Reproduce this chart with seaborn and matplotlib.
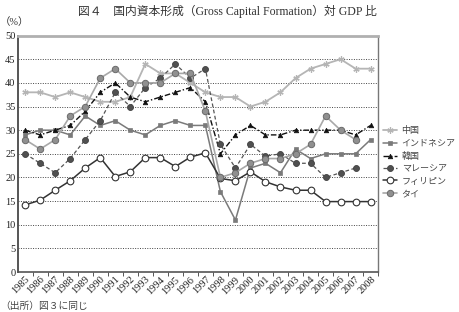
import numpy as np
import pandas as pd
import matplotlib
matplotlib.use("Agg")
import matplotlib.pyplot as plt
import seaborn as sns

# Gross capital formation as % of GDP, 1985-2008
years = [str(y) for y in range(1985, 2009)]
china = [38, 38, 37, 38, 37, 36, 36, 37, 44, 42, 42, 40, 38, 37, 37, 35, 36, 38, 41, 43, 44, 45, 43, 43]
indonesia = [29, 30, 30, 29, 33, 31, 32, 30, 29, 31, 32, 31, 31, 17, 11, 22, 23, 21, 26, 24, 25, 25, 25, 28]
korea = [30, 29, 30, 31, 34, 38, 40, 37, 36, 37, 38, 39, 36, 25, 29, 31, 29, 29, 30, 30, 30, 30, 29, 31]
malaysia = [25, 23, 21, 24, 28, 32, 38, 35, 39, 41, 44, 41, 43, 27, 22, 27, 24.5, 25, 23, 23, 20, 21, 22, np.nan]
philippines = [14.2, 15.2, 17.3, 19.3, 22, 24.2, 20.2, 21.2, 24.2, 24.2, 22.3, 24.3, 25.2, 19.8, 19.3, 21.2,
               19.1, 18, 17.3, 17.3, 14.9, 14.9, 14.9, 14.9]
thailand = [28, 26, 28, 33, 35, 41, 43, 40, 40, 40, 42, 42, 34, 20, 21, 23, 24, 24, 25, 27, 33, 30, 28, np.nan]

names = ["中国", "インドネシア", "韓国", "マレーシア", "フィリピン", "タイ"]
values = [china, indonesia, korea, malaysia, philippines, thailand]

# line / marker styles per country
styles = {
    "中国": dict(color="#b5b5b5", lw=1.3, ls="-", marker=(6, 2, 0), ms=4.5, mfc="#b5b5b5", mec="#b5b5b5", mew=0.9),
    "インドネシア": dict(color="#7a7a7a", lw=1.1, ls="-", marker="s", ms=2.8, mfc="#7a7a7a", mec="#7a7a7a", mew=0.5),
    "韓国": dict(color="#111111", lw=1.0, ls=(0, (4, 1.5, 1, 1.5)), marker="^", ms=3.3, mfc="#111111", mec="#111111", mew=0.5),
    "マレーシア": dict(color="#555555", lw=0.9, ls=(0, (3, 2)), marker="o", ms=4.3, mfc="#505050", mec="#404040", mew=0.6),
    "フィリピン": dict(color="#333333", lw=1.1, ls="-", marker="o", ms=4.8, mfc="white", mec="#333333", mew=0.8),
    "タイ": dict(color="#a8a8a8", lw=1.2, ls="-", marker="o", ms=4.6, mfc="#909090", mec="#6a6a6a", mew=0.7),
}

sns.set_theme(style="white")
plt.rcParams['font.family'] = ['Liberation Serif', 'Noto Sans CJK JP', 'DejaVu Sans']

fig = plt.figure(figsize=(4.6, 3.12), dpi=100)
ax = fig.add_axes([0.040, 0.128, 0.782, 0.758])

x = np.arange(len(years))
for name, vals in zip(names, values):
    st = styles[name]
    sns.lineplot(x=x, y=vals, ax=ax, label=name, color=st["color"], linewidth=st["lw"],
                 linestyle=st["ls"], marker=st["marker"], markersize=st["ms"],
                 markerfacecolor=st["mfc"], markeredgecolor=st["mec"], markeredgewidth=st["mew"])

ax.set_xlim(-0.45, len(years) - 0.55)
ax.set_ylim(0, 50)
ax.set_yticks(range(0, 51, 5))
ax.set_yticklabels([str(v) for v in range(0, 51, 5)], fontsize=7.5, color="#222222")
ax.set_xticks(x)
ax.set_xticklabels(years, rotation=45, ha="right", rotation_mode="anchor", fontsize=7.5, color="#222222")
ax.set_xticks(x + 0.5, minor=True)
ax.tick_params(axis="x", which="major", length=0, pad=2)
ax.tick_params(axis="x", which="minor", length=3, width=0.7, color="#555555", direction="out", bottom=True)
ax.tick_params(axis="y", length=0, pad=2)

for v in range(5, 50, 5):
    ax.axhline(v, color="#444444", lw=0.7, ls=(0, (1, 1.5)), zorder=0)

ax.spines["left"].set_color("#555555")
ax.spines["left"].set_linewidth(1.4)
ax.spines["bottom"].set_color("#555555")
ax.spines["bottom"].set_linewidth(1.2)
ax.spines["top"].set_color("#b0b0b0")
ax.spines["top"].set_linewidth(2)
ax.spines["right"].set_color("#777777")
ax.spines["right"].set_linewidth(1)
ax.set_xlabel("")
ax.set_ylabel("")

leg = ax.legend(loc="upper left", bbox_to_anchor=(1.0, 0.635), frameon=False, fontsize=6.5,
                handlelength=1.6, handletextpad=0.5, labelspacing=0.45, borderaxespad=0.3,
                borderpad=0.2)
for t in leg.get_texts():
    t.set_color("#444444")

fig.text(0.495, 0.985, "図４　国内資本形成（Gross Capital Formation）対 GDP 比",
         ha="center", va="top", fontsize=8.5, color="#333333")
fig.text(0.0, 0.93, "（%）", ha="left", va="center", fontsize=7.5, color="#333333")
fig.text(0.0, 0.018, "（出所）図３に同じ", ha="left", va="center", fontsize=7, color="#444444")

fig.savefig("out.png", dpi=100)
